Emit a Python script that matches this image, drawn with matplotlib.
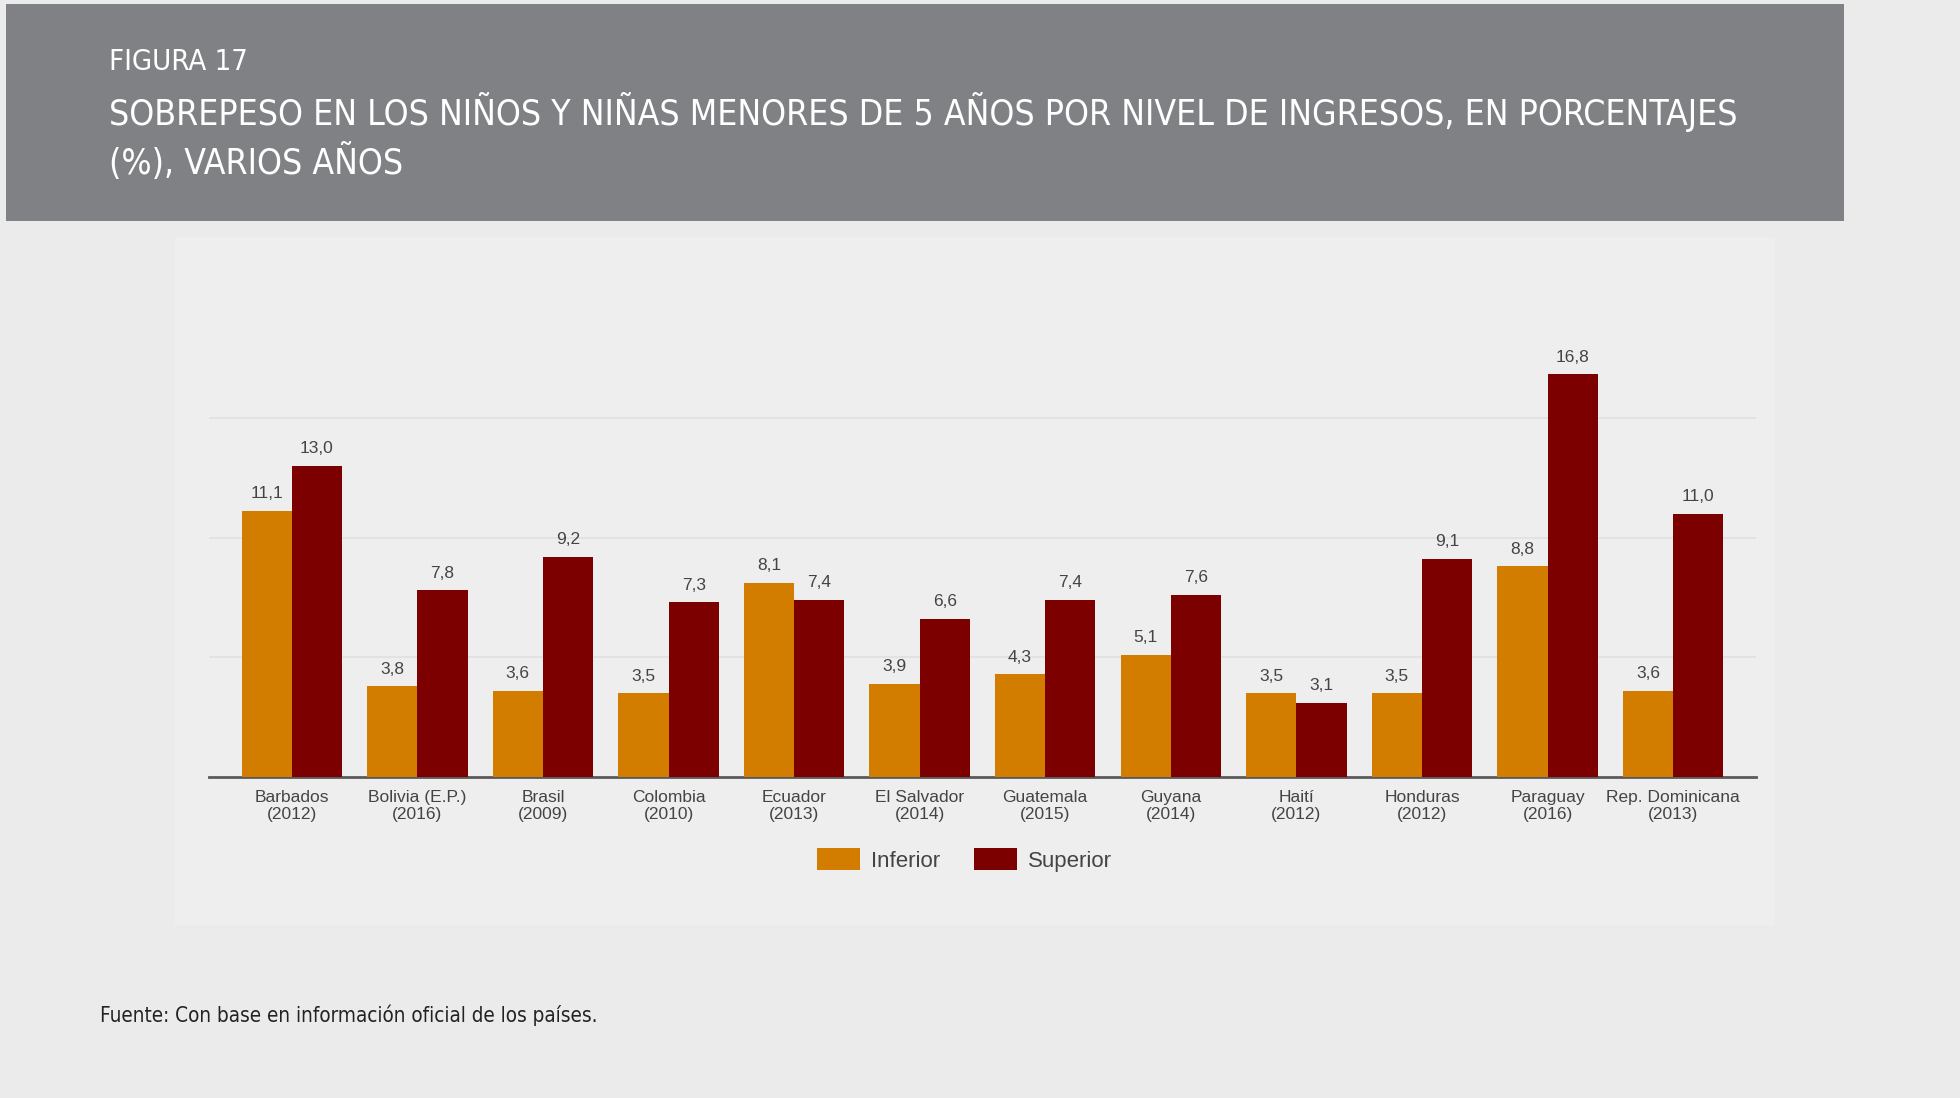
import numpy as np
import matplotlib
matplotlib.use("Agg")
import matplotlib.pyplot as plt
from matplotlib.patches import Rectangle

# DATOS
paises = ["Barbados\n(2012)", "Bolivia (E.P.)\n(2016)", "Brasil\n(2009)", "Colombia\n(2010)",
          "Ecuador\n(2013)", "El Salvador\n(2014)", "Guatemala\n(2015)", "Guyana\n(2014)",
          "Haití\n(2012)", "Honduras\n(2012)", "Paraguay\n(2016)", "Rep. Dominicana\n(2013)"]
inferior = [11.1, 3.8, 3.6, 3.5, 8.1, 3.9, 4.3, 5.1, 3.5, 3.5, 8.8, 3.6]
superior = [13.0, 7.8, 9.2, 7.3, 7.4, 6.6, 7.4, 7.6, 3.1, 9.1, 16.8, 11.0]
series = ["Inferior", "Superior"]

color_inf = "#D27C00"
color_sup = "#7D0000"
fondo = "#EBEBEB"

fig = plt.figure(figsize=(19.6, 10.98), dpi=100, facecolor=fondo)

# banda del titulo y panel del grafico
fig.patches.append(Rectangle((6 / 1960, 1 - 221 / 1098), (1844 - 6) / 1960, (221 - 4) / 1098,
                             transform=fig.transFigure, facecolor="#808184", edgecolor="none", zorder=-2))
fig.patches.append(Rectangle((175 / 1960, 1 - 925 / 1098), 1600 / 1960, 688 / 1098,
                             transform=fig.transFigure, facecolor="#EEEEEE", edgecolor="none", zorder=-2))

titulo_fuente = ["DejaVu Sans"]
fig.text(109 / 1960, 1 - 62 / 1098, "FIGURA 17", color="white", fontsize=21,
         family=titulo_fuente, fontstretch="condensed", va="center", ha="left")
fig.text(109 / 1960, 1 - 112 / 1098,
         "SOBREPESO EN LOS NIÑOS Y NIÑAS MENORES DE 5 AÑOS POR NIVEL DE INGRESOS, EN PORCENTAJES",
         color="white", fontsize=25.5, family=titulo_fuente, fontstretch="condensed", va="center", ha="left")
fig.text(109 / 1960, 1 - 162 / 1098, "(%), VARIOS AÑOS", color="white", fontsize=25.5,
         family=titulo_fuente, fontstretch="condensed", va="center", ha="left")

fig.text(100 / 1960, 1 - 1015 / 1098, "Fuente: Con base en información oficial de los países.",
         color="#222222", fontsize=14.9, family=titulo_fuente, fontstretch="condensed", va="center", ha="left")

ax = fig.add_axes([0.1066, 0.2919, 0.7893, 0.3825])
ax.set_facecolor("none")

x = np.arange(len(paises))
ancho = 0.4
b1 = ax.bar(x - ancho / 2, inferior, ancho, color=color_inf, label=series[0], zorder=3)
b2 = ax.bar(x + ancho / 2, superior, ancho, color=color_sup, label=series[1], zorder=3)

for barras, vals in [(b1, inferior), (b2, superior)]:
    for b, v in zip(barras, vals):
        ax.annotate(f"{v:.1f}".replace(".", ","), (b.get_x() + b.get_width() / 2, v),
                    xytext=(0, 7), textcoords="offset points", ha="center", va="bottom",
                    fontsize=12.5, color="#444444", family="Liberation Sans")

ax.set_xlim(-0.66, 11.66)
ax.set_ylim(0, 17.5)
ax.set_yticks([5, 10, 15])
ax.yaxis.grid(True, color="#E0E0E0", linewidth=1.2, zorder=0)
ax.tick_params(axis="y", left=False, labelleft=False)
ax.set_xticks(x)
ax.set_xticklabels(paises, fontsize=12.5, color="#444444", family="Liberation Sans", linespacing=1.2)
ax.tick_params(axis="x", length=0, pad=9)
for lado in ["top", "right", "left"]:
    ax.spines[lado].set_visible(False)
ax.spines["bottom"].set_color("#5A5A5A")
ax.spines["bottom"].set_linewidth(2)

fig.legend(handles=[b1, b2], labels=series, loc="center", bbox_to_anchor=(0.492, 0.2168), ncol=2,
           frameon=False, handlelength=1.95, handleheight=1.1, columnspacing=1.5,
           handletextpad=0.5, prop={"family": "Liberation Sans", "size": 16}, labelcolor="#444444")

fig.savefig("out.png", dpi=100, facecolor=fondo)
